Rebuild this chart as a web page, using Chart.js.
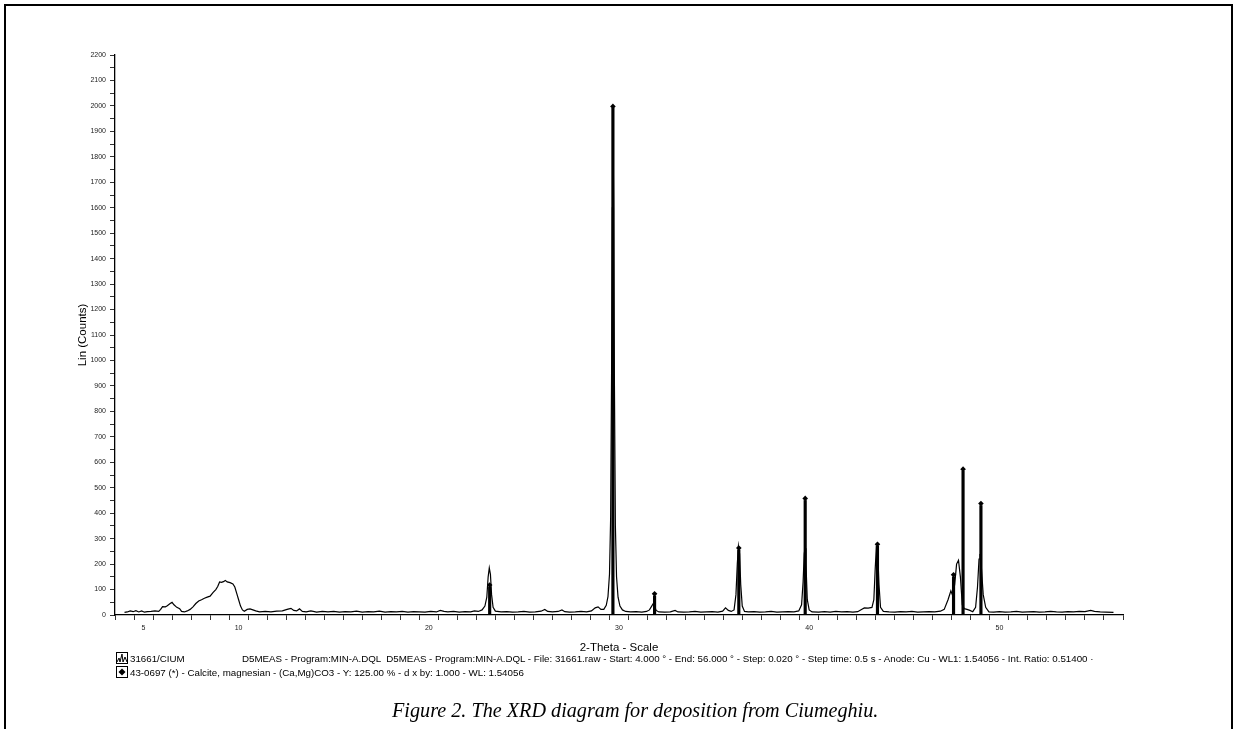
<!DOCTYPE html>
<html>
<head>
<meta charset="utf-8">
<script src="https://cdn.jsdelivr.net/npm/chart.js@4/dist/chart.umd.min.js"></script>
<style>
  html, body { margin:0; padding:0; background:#fff; width:1236px; height:729px; overflow:hidden; }
  #frame { position:absolute; left:4px; top:4px; width:1229px; height:760px; border:2px solid #000; border-bottom:none; box-sizing:border-box; }
  #c { position:absolute; left:0; top:0; }
  .t { position:absolute; font-family:"Liberation Sans", Arial, sans-serif; font-size:9.75px; color:#000; white-space:pre; line-height:12px; }
  .cap { position:absolute; left:392px; top:699px; font-family:"Liberation Serif","Times New Roman",serif; font-style:italic; font-size:20.2px; color:#000; white-space:pre; }
  svg.ic { position:absolute; }
</style>
</head>
<body>
<div id="frame"></div>
<canvas id="c" width="1236" height="729"></canvas>

<svg class="ic" style="left:116px;top:652px" width="12" height="12" viewBox="0 0 12 12">
  <rect x="0.5" y="0.5" width="11" height="11" fill="#fff" stroke="#000" stroke-width="1"/>
  <polyline points="1,10 3,6 4,10 6,2 7,10 9,5 11,10" fill="none" stroke="#000" stroke-width="1"/>
</svg>
<div class="t" style="left:130px;top:653px">31661/CIUM</div>
<div class="t" style="left:242px;top:653px">D5MEAS - Program:MIN-A.DQL  D5MEAS - Program:MIN-A.DQL - File: 31661.raw - Start: 4.000 ° - End: 56.000 ° - Step: 0.020 ° - Step time: 0.5 s - Anode: Cu - WL1: 1.54056 - Int. Ratio: 0.51400 ·</div>
<svg class="ic" style="left:116px;top:666px" width="12" height="12" viewBox="0 0 12 12">
  <rect x="0.5" y="0.5" width="11" height="11" fill="#fff" stroke="#000" stroke-width="1"/>
  <polygon points="6,2.5 9.5,6 6,9.5 2.5,6" fill="#000"/>
</svg>
<div class="t" style="left:130px;top:667px">43-0697 (*) - Calcite, magnesian - (Ca,Mg)CO3 - Y: 125.00 % - d x by: 1.000 - WL: 1.54056</div>
<div class="cap">Figure 2. The XRD diagram for deposition from Ciumeghiu.</div>

<script>
// ---- measured XRD trace (2-theta in degrees, counts) ----
const theta = [
  4.00,4.15,4.30,4.45,4.60,4.75,4.90,5.05,5.20,5.40,5.60,5.80,5.90,6.00,6.15,6.25,6.40,6.50,6.60,6.75,
  6.90,7.00,7.15,7.30,7.45,7.60,7.75,7.90,8.05,8.20,8.35,8.50,8.65,8.80,8.90,9.00,9.10,9.20,9.30,9.40,
  9.55,9.70,9.80,9.90,10.00,10.10,10.20,10.30,10.45,10.60,10.75,10.90,11.10,11.40,11.70,12.00,12.30,12.55,12.75,12.90,
  13.05,13.20,13.35,13.55,13.80,14.10,14.40,14.70,15.00,15.30,15.60,15.90,16.20,16.50,16.80,17.10,17.40,17.70,18.00,18.30,
  18.60,18.90,19.20,19.50,19.80,20.10,20.40,20.60,20.80,21.00,21.30,21.60,21.90,22.20,22.40,22.60,22.80,22.95,23.05,23.12,
  23.18,23.24,23.30,23.38,23.50,23.80,24.10,24.40,24.70,25.00,25.30,25.60,25.90,26.10,26.25,26.50,26.80,27.00,27.15,27.40,
  27.70,28.00,28.30,28.55,28.75,28.90,29.05,29.20,29.33,29.42,29.50,29.56,29.61,29.65,29.68,29.72,29.76,29.81,29.87,29.95,
  30.05,30.18,30.35,30.60,30.90,31.20,31.45,31.60,31.72,31.80,31.86,31.95,32.10,32.40,32.70,32.95,33.10,33.40,33.70,34.00,
  34.30,34.60,34.90,35.20,35.45,35.60,35.75,35.90,36.05,36.15,36.22,36.28,36.34,36.40,36.48,36.60,36.80,37.10,37.40,37.70,
  38.00,38.30,38.60,38.90,39.20,39.45,39.60,39.68,39.74,39.78,39.83,39.90,40.00,40.15,40.50,40.80,41.10,41.40,41.70,42.00,
  42.30,42.55,42.75,42.90,43.10,43.30,43.40,43.47,43.53,43.60,43.67,43.75,43.90,44.20,44.50,44.80,45.10,45.40,45.70,46.00,
  46.30,46.60,46.90,47.10,47.30,47.45,47.55,47.65,47.75,47.85,47.95,48.05,48.15,48.30,48.45,48.60,48.75,48.85,48.93,48.98,
  49.05,49.15,49.28,49.45,49.70,50.00,50.30,50.60,50.90,51.20,51.50,51.80,52.10,52.40,52.70,53.00,53.30,53.60,53.90,54.20,
  54.50,54.80,55.00,55.30,55.60,56.00
];
const counts = [
  10,12,16,13,17,12,16,11,13,14,16,14,22,33,32,36,45,50,40,30,
  25,14,12,16,22,32,45,55,60,66,70,74,88,100,112,130,128,131,136,130,
  127,122,110,85,60,35,20,15,22,24,20,16,12,14,12,15,16,22,26,18,
  16,24,14,12,16,11,14,12,14,11,13,12,15,11,13,12,15,11,13,12,
  14,11,13,12,11,14,12,18,14,12,14,11,13,12,16,14,20,35,70,150,
  185,160,80,30,15,12,13,11,12,14,11,12,15,22,14,12,14,20,13,11,
  12,14,12,16,28,32,22,22,38,72,160,380,950,1600,1985,1600,900,350,150,70,
  35,20,14,12,13,11,14,20,35,45,38,18,12,11,12,18,12,11,12,14,
  11,12,13,11,15,28,18,14,20,80,200,270,240,120,35,14,12,13,11,12,
  14,11,12,13,12,16,40,130,240,262,200,60,20,12,11,13,11,14,12,13,
  11,13,22,28,27,30,60,180,265,250,120,30,14,12,11,13,12,14,11,12,
  13,12,15,22,60,95,75,120,200,215,150,40,25,22,18,13,30,110,220,240,
  190,80,30,12,11,13,11,12,14,11,12,13,11,12,14,12,11,13,12,14,
  13,18,14,12,11,10
];
// ---- reference pattern 43-0697 (sticks) ----
const stickTheta  = [23.20, 29.68, 31.87, 36.30, 39.79, 43.59, 47.59, 48.09, 49.03];
const stickCounts = [110, 1990, 75, 255, 450, 270, 150, 565, 430];
// ---- tick labels ----
const xTickLabels = [5, 10, 20, 30, 40, 50];
const yTickLabels = [0,100,200,300,400,500,600,700,800,900,1000,1100,1200,1300,1400,1500,1600,1700,1800,1900,2000,2100,2200];

const tickFont = { family: '"Liberation Sans", Arial, sans-serif', size: 7 };
const titleFont = { family: '"Liberation Sans", Arial, sans-serif', size: 11.5 };

new Chart(document.getElementById('c'), {
  type: 'scatter',
  data: {
    datasets: [
      {
        type: 'scatter',
        data: stickTheta.map((t, i) => ({ x: t, y: stickCounts[i] + 8 })),
        pointStyle: 'rectRot', pointRadius: 2.8, backgroundColor: '#000', borderColor: '#000', borderWidth: 0,
        order: 0
      },
      {
        type: 'bar',
        data: stickTheta.map((t, i) => ({ x: t, y: stickCounts[i] })),
        backgroundColor: '#000', barThickness: 2.5, order: 1
      },
      {
        type: 'line',
        data: theta.map((t, i) => ({ x: t, y: counts[i] })),
        borderColor: '#000', borderWidth: 1.2, pointRadius: 0, tension: 0, fill: false,
        order: 2
      }
    ]
  },
  options: {
    responsive: false,
    animation: false,
    events: [],
    plugins: { legend: { display: false }, tooltip: { enabled: false } },
    layout: { padding: { left: 76, top: 55, right: 113, bottom: 74 } },
    scales: {
      x: {
        type: 'linear', min: 4, max: 56,
        afterFit: s => { s.height = 40; },
        border: { display: true, color: '#000', width: 1.3 },
        grid: { display: true, drawOnChartArea: false, drawTicks: true, tickLength: 5, tickColor: '#333', tickWidth: 1 },
        ticks: {
          stepSize: 1, autoSkip: false, maxRotation: 0, padding: 4, color: '#222', font: tickFont,
          callback: v => xTickLabels.includes(v) ? String(v) : ''
        },
        title: { display: true, text: '2-Theta - Scale', color: '#000', font: titleFont, padding: { top: 0, bottom: 0 } }
      },
      y: {
        type: 'linear', min: 0, max: 2200,
        afterFit: s => { s.width = 39; },
        border: { display: true, color: '#000', width: 1.3 },
        grid: { display: true, drawOnChartArea: false, drawTicks: true, tickLength: 5, tickColor: '#333', tickWidth: 1 },
        ticks: {
          stepSize: 50, autoSkip: false, padding: 4, color: '#222', font: tickFont,
          callback: v => yTickLabels.includes(v) ? String(v) : ''
        },
        title: { display: true, text: 'Lin (Counts)', color: '#000', font: titleFont, padding: { top: 0, bottom: 0 } }
      }
    }
  }
});
</script>
</body>
</html>
